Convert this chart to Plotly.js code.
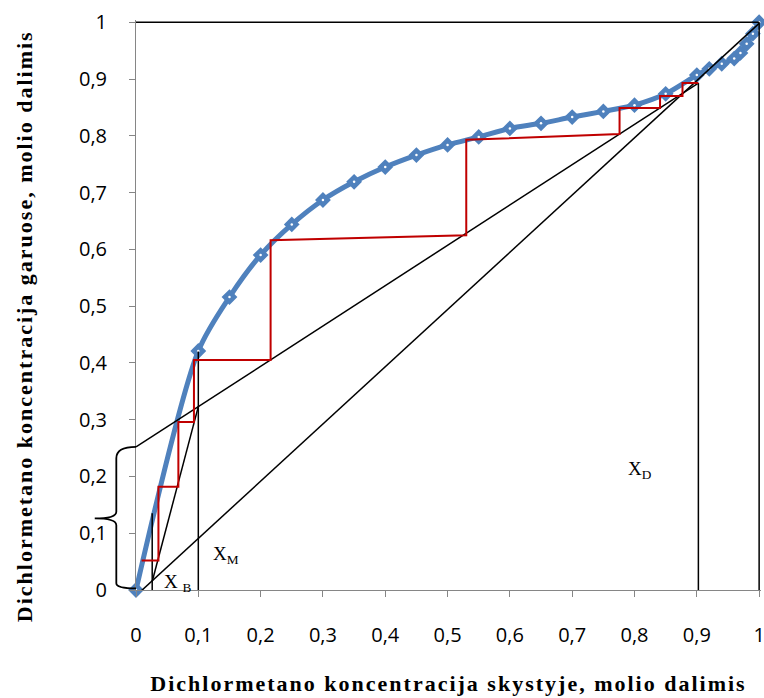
<!DOCTYPE html>
<html>
<head>
<meta charset="utf-8">
<script src="https://cdn.plot.ly/plotly-3.0.1.min.js"></script>
<style>
  html, body { margin: 0; padding: 0; background: #fff; }
  #chart { width: 764px; height: 698px; }
  svg text.xtitle { letter-spacing: 2px; }
</style>
</head>
<body>
<div id="chart"></div>
<script>
// Equilibrium curve (liquid x, vapour y), molio dalimis
const xLiquid = [0, 0.1, 0.15, 0.2, 0.25, 0.3, 0.35, 0.4, 0.45, 0.5, 0.55, 0.6, 0.65, 0.7, 0.75, 0.8, 0.85, 0.9, 0.92, 0.94, 0.96, 0.97, 0.98, 0.99, 1];
const yVapor  = [0, 0.421, 0.516, 0.59, 0.644, 0.687, 0.719, 0.745, 0.766, 0.784, 0.798, 0.813, 0.822, 0.833, 0.843, 0.854, 0.874, 0.907, 0.918, 0.927, 0.936, 0.946, 0.962, 0.980, 1.0];

// Key compositions
const xB = 0.026;     // bottoms
const xM = 0.1;       // feed
const xD = 0.9025;    // distillate
const yD = 0.893;
const bIntercept = 0.252;

// Construction lines (x pairs, y pairs)
const diagX = [0, 1];          const diagY = [-0.01, 0.998];
const topX = [0, 1];           const topY = [1, 1];
const rightX = [1, 1];         const rightY = [0, 1];
const xBTop = 0.135;
const xMTop = 0.42;
const stripStartY = 0.015;
const feedMeetY = 0.323;

// McCabe-Thiele steps
const stepX = [0.9025, 0.877, 0.877, 0.841, 0.841, 0.776, 0.776, 0.530, 0.530, 0.216, 0.216, 0.093, 0.093, 0.068, 0.068, 0.036, 0.036, 0.009];
const stepY = [0.893, 0.893, 0.870, 0.870, 0.849, 0.849, 0.803, 0.793, 0.625, 0.616, 0.405, 0.405, 0.296, 0.296, 0.182, 0.182, 0.052, 0.052];

// Axis ticks
const tickValues = [0, 0.1, 0.2, 0.3, 0.4, 0.5, 0.6, 0.7, 0.8, 0.9, 1];

const blue = '#4F81BD';
const black = '#000000';
const red = '#C00000';

function lineTrace(x, y, color, width) {
  return { x: x, y: y, type: 'scatter', mode: 'lines', hoverinfo: 'skip',
           line: { color: color, width: width }, showlegend: false };
}

const traces = [
  { x: xLiquid, y: yVapor, type: 'scatter', mode: 'lines+markers', cliponaxis: false,
    line: { color: blue, width: 5, shape: 'spline', smoothing: 0.8 },
    marker: { symbol: 'diamond', size: 10, color: blue, line: { color: blue, width: 2 } },
    showlegend: false },
  { x: xLiquid, y: yVapor, type: 'scatter', mode: 'markers', cliponaxis: false,
    marker: { symbol: 'circle', size: 2.5, color: '#ffffff' }, showlegend: false, hoverinfo: 'skip' },
  lineTrace(topX, topY, black, 1.5),
  lineTrace(rightX, rightY, black, 1.5),
  lineTrace(diagX, diagY, black, 1.5),
  lineTrace([0, xD], [bIntercept, yD], black, 1.5),
  lineTrace([xB, xM], [stripStartY, feedMeetY], black, 1.5),
  lineTrace([xB, xB], [0, xBTop], black, 1.5),
  lineTrace([xM, xM], [0, xMTop], black, 1.5),
  lineTrace([xD, xD], [0, yD], black, 1.5),
  lineTrace(stepX, stepY, red, 2)
];

// plot area geometry helpers for the brace (paper coords)
const xMax = 1.003, yMax = 1.004;
function py(v) { return v / yMax; }
const bx0 = 0, bx1 = -0.0315, bx2 = -0.066;
const mid = bIntercept / 2;
const bracePath =
  'M ' + bx0 + ',' + py(bIntercept) +
  ' Q ' + bx1 + ',' + py(bIntercept) + ' ' + bx1 + ',' + py(bIntercept - 0.02) +
  ' L ' + bx1 + ',' + py(mid + 0.012) +
  ' Q ' + bx1 + ',' + py(mid) + ' ' + bx2 + ',' + py(mid) +
  ' Q ' + bx1 + ',' + py(mid) + ' ' + bx1 + ',' + py(mid - 0.012) +
  ' L ' + bx1 + ',' + py(0.012) +
  ' Q ' + bx1 + ',' + py(0.003) + ' ' + bx0 + ',' + py(0.003);

const serif = 'Liberation Serif, Times New Roman, serif';
const sans = 'Open Sans, sans-serif';

const layout = {
  width: 764, height: 698,
  margin: { l: 136, r: 3, t: 20, b: 108, pad: 0 },
  paper_bgcolor: '#ffffff', plot_bgcolor: '#ffffff',
  separators: ',.',
  showlegend: false,
  font: { family: sans, size: 19, color: '#000' },
  xaxis: {
    range: [0, xMax], tickvals: tickValues, ticklabeloverflow: 'allow',
    showgrid: false, zeroline: false, showline: true, linecolor: '#868686', linewidth: 1,
    ticks: 'outside', ticklen: 6, tickcolor: '#868686', ticklabelstandoff: 21,
    tickfont: { family: sans, size: 20, color: '#000' },
    title: { text: 'Dichlormetano koncentracija skystyje, molio dalimis',
             font: { family: serif, size: 22, weight: 'bold', color: '#000' }, standoff: 28 }
  },
  yaxis: {
    range: [0, yMax], tickvals: tickValues, ticklabeloverflow: 'allow',
    showgrid: false, zeroline: false, showline: true, linecolor: '#868686', linewidth: 1,
    ticks: 'outside', ticklen: 6, tickcolor: '#868686', ticklabelstandoff: 18,
    tickfont: { family: sans, size: 20, color: '#000' }
  },
  shapes: [
    { type: 'path', xref: 'paper', yref: 'paper', path: bracePath,
      line: { color: '#000', width: 1.8 } }
  ],
  annotations: [
    { text: 'Dichlormetano koncentracija garuose, molio dalimis', textangle: -90,
      xref: 'paper', yref: 'paper', x: -0.179, y: 0.463, xanchor: 'center', yanchor: 'middle',
      showarrow: false, font: { family: serif, size: 22, weight: 'bold', color: '#000' } },
    { text: 'b', xref: 'x', yref: 'y', x: -0.096, y: 0.146, xanchor: 'center', yanchor: 'middle',
      showarrow: false, font: { family: serif, size: 20, color: '#000' } },
    { text: 'X <sub>B</sub>', xref: 'x', yref: 'y', x: 0.042, y: 0.012, xanchor: 'left', yanchor: 'middle',
      showarrow: false, font: { family: serif, size: 19, color: '#000' } },
    { text: 'X<sub>M</sub>', xref: 'x', yref: 'y', x: 0.12, y: 0.062, xanchor: 'left', yanchor: 'middle',
      showarrow: false, font: { family: serif, size: 19, color: '#000' } },
    { text: 'X<sub>D</sub>', xref: 'x', yref: 'y', x: 0.786, y: 0.212, xanchor: 'left', yanchor: 'middle',
      showarrow: false, font: { family: serif, size: 19, color: '#000' } }
  ]
};

Plotly.newPlot('chart', traces, layout, { displayModeBar: false, staticPlot: true }).then(function () {
  // widen the y title like the x title
  document.querySelectorAll('.annotation-text').forEach(function (t) {
    if (t.textContent.indexOf('garuose') >= 0) t.style.letterSpacing = '2px';
  });
});
</script>
</body>
</html>
